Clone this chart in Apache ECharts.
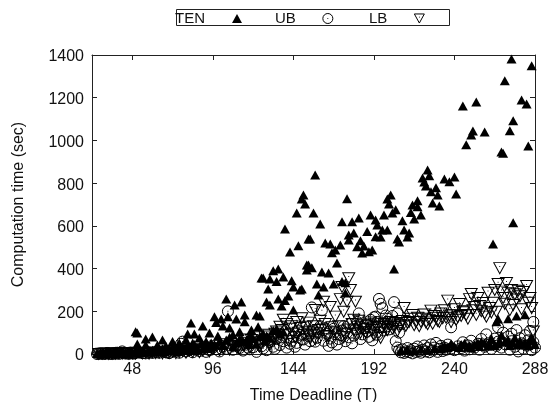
<!DOCTYPE html>
<html><head><meta charset="utf-8">
<script src="https://cdn.jsdelivr.net/npm/echarts@6/dist/echarts.min.js"></script>
<style>html,body{margin:0;background:#fff}#c{width:551px;height:402px}</style></head>
<body><div id="c"></div>
<script>
const xTicks=[48,96,144,192,240,288];
const yTicks=[0,200,400,600,800,1000,1200,1400];
const tenPoints=[[274,1381],[286,1350],[270,1280],[280,1189],[283,1170],[253,1180],[245,1161],[275,1092],[273,1045],[258,1039],[251,1044],[250,1025],[247,980],[284,974],[268,946],[269,940],[157,838],[224,861],[225,835],[221,824],[234,819],[240,829],[237,807],[222,805],[223,787],[229,779],[226,760],[230,744],[241,749],[202,744],[150,744],[149,726],[151,702],[176,727],[200,726],[201,702],[218,718],[215,698],[218,690],[227,707],[231,693],[205,676],[203,660],[214,662],[146,660],[156,660],[190,651],[198,651],[220,651],[275,615],[263,515],[204,398],[160,609],[173,619],[179,619],[183,637],[193,627],[194,604],[197,581],[200,581],[209,624],[216,632],[210,581],[213,567],[212,548],[206,538],[207,524],[188,573],[180,567],[177,557],[177,534],[193,549],[196,548],[184,530],[182,502],[186,506],[185,473],[189,479],[191,487],[172,510],[166,515],[163,520],[169,487],[167,474],[154,538],[170,426],[153,417],[155,404],[152,393],[161,384],[165,379],[158,328],[162,314],[168,328],[173,339],[175,334],[159,276],[149,304],[175,286],[266,164],[272,165],[277,178],[282,184],[265,151],[139,585],[142,478],[147,507],[153,538],[152,417],[132,390],[135,398],[125,356],[126,356],[130,351],[134,339],[138,361],[143,343],[144,314],[148,300],[129,304],[141,272],[135,258],[139,250],[128,243],[130,229],[137,225],[144,206],[104,258],[109,229],[113,243],[97,175],[101,164],[105,175],[115,183],[122,183],[124,178],[83,145],[90,131],[98,147],[110,164],[115,151],[102,131],[106,122],[112,104],[119,112],[123,128],[50,104],[51,98],[81,94],[85,94],[94,98],[56,70],[60,80],[66,66],[51,47],[72,58],[80,66],[88,75],[99,84],[56,42],[63,42],[68,37],[76,51],[84,51],[92,58],[104,66],[116,66],[108,90],[118,88],[126,95],[132,110],[120,72],[128,84],[136,92],[100,60],[110,52],[122,48],[78,30],[86,28],[94,32],[70,22],[60,18],[52,16],[46,12],[42,10],[38,14],[34,8],[30,5],[27,2],[29,6],[32,4],[36,3],[40,7],[44,4],[48,6],[54,9],[58,10],[64,14],[74,20],[82,16],[90,24],[96,36],
[28,1],[31,3],[33,2],[35,5],[37,6],[39,4],[41,8],[43,3],[45,6],[47,9],[49,5],[50,12],[53,7],[55,14],[57,8],[59,12],[61,9],[62,20],[65,10],[66,24],[67,12],[69,16],[71,14],[73,28],[75,12],[77,34],[79,18],[81,40],[83,24],[85,44],[87,20],[89,48],[91,38],[93,26],[95,52],[97,44],[102,40],[106,78],[108,34],[112,70],[114,60],[118,44],[124,82],[127,62],[130,74],[134,118],[138,104],
[208,16],[212,20],[216,14],[220,22],[224,18],[228,26],[232,24],[236,30],[240,35],[243,30],[246,50],[249,40],[252,45],[255,35],[258,50],[261,45],[264,40],[267,60],[270,55],[273,40],[276,75],[268,88],[279,60],[282,52],[285,68],[287,62],[288,45],[262,72],[256,58],[250,28],[244,44],[238,48],[234,38],[278,42],[248,32],[254,52],[260,36],[266,48],[272,66],[275,50],[280,46],[284,40],[286,76]];
const ubPoints=[[27,0],[28,2],[29,1],[30,3],[31,0],[32,2],[33,5],[34,1],[35,3],[36,0],[37,4],[38,2],[39,6],[40,1],[41,3],[42,12],[43,5],[44,2],[45,4],[46,1],[47,7],[48,3],[49,2],[50,5],[52,8],[54,4],[56,3],[58,7],[60,5],[62,9],[64,6],[66,12],[68,8],[70,4],[72,10],[74,16],[76,6],[77,48],[78,58],[80,12],[82,18],[84,8],[86,20],[88,14],[90,26],[92,10],[94,18],[96,30],[98,22],[100,12],[102,36],[104,24],[105,200],[106,52],[108,20],[110,38],[112,28],[114,16],[116,44],[118,22],[120,32],[122,10],[124,50],[126,26],[128,18],[130,56],[132,34],[134,70],[136,42],[138,60],[140,30],[142,48],[144,80],[146,52],[148,90],[150,68],[152,96],[154,60],[155,218],[156,110],[158,76],[160,130],[161,205],[162,62],[164,95],[165,38],[166,72],[168,118],[170,44],[172,88],[174,130],[175,60],[176,100],[178,140],[180,86],[182,150],[183,190],[184,70],[186,120],[188,105],[190,160],[191,64],[192,135],[193,175],[194,90],[195,258],[196,235],[197,215],[198,145],[199,180],[200,165],[201,115],[202,150],[204,243],[206,190],[207,100],[208,140],
[109,62],[113,44],[117,30],[121,58],[125,36],[129,66],[133,24],[137,78],[141,96],[143,62],[145,34],[147,110],[149,70],[151,44],[153,84],[157,58],[159,100],[163,120],[167,54],[169,92],[171,70],[173,110],[177,78],[179,50],[181,116],[185,92],[187,140],[189,80],[192,172],[194,150],[196,128],[198,110],[200,130],[203,178],
[205,60],[206,30],[207,18],[208,8],[209,22],[210,5],[211,12],[212,28],[213,9],[214,18],[215,3],[216,25],[217,10],[218,35],[219,14],[220,6],[221,20],[222,40],[223,12],[224,28],[225,8],[226,45],[227,16],[228,30],[229,52],[230,10],[231,24],[232,38],[233,14],[234,30],[235,20],[236,44],[238,125],[238,26],[240,18],[242,36],[244,28],[245,55],[246,16],[248,40],[249,22],[250,62],[252,30],[254,48],[255,20],[256,70],[258,34],[259,92],[260,50],[262,24],[264,72],[265,38],[266,58],[268,30],[269,100],[270,46],[272,82],[273,20],[274,60],[276,34],[277,112],[278,12],[279,74],[280,50],[281,25],[282,88],[283,40],[284,64],[285,108],[286,18],[287,55],[287,150],[288,30],[266,125],[274,95]];
const lbPoints=[[28,0],[30,1],[32,3],[34,0],[36,2],[38,1],[40,4],[42,2],[44,5],[46,1],[48,3],[50,2],[52,6],[54,3],[56,5],[58,2],[60,7],[62,4],[64,6],[66,3],[68,8],[70,5],[72,12],[74,4],[76,9],[78,14],[80,6],[82,18],[84,10],[86,24],[88,8],[90,16],[92,30],[94,12],[96,22],[98,38],[100,18],[102,28],[104,46],[106,20],[108,36],[110,58],[112,26],[114,42],[116,68],[118,32],[120,50],[122,78],[124,38],[126,60],[128,90],[130,44],[132,72],[134,105],[136,128],[138,160],[140,140],[142,118],[144,95],[146,150],[148,122],[149,167],[150,88],[152,104],[153,147],[154,72],[156,130],[157,206],[158,96],[160,156],[161,115],[162,245],[164,84],[166,220],[167,125],[169,175],[170,100],[172,257],[173,314],[174,198],[175,92],[176,245],[177,355],[178,300],[179,140],[180,110],[181,245],[182,128],[183,156],[184,100],[186,135],[188,116],[190,148],[192,88],[194,126],[196,75],[198,140],[200,112],[202,150],[204,125],[206,108],[208,135],[210,215],[212,145],[214,165],[215,183],[216,135],[218,170],[220,151],[222,185],[224,140],[226,203],[228,178],[230,155],[232,190],[233,168],[234,205],[236,250],[237,180],[238,150],[240,210],[242,172],[243,234],[245,195],[247,183],[249,257],[250,281],[251,205],[253,183],[254,262],[255,225],[257,239],[258,190],[260,287],[261,215],[263,240],[265,198],[266,328],[267,402],[268,292],[269,262],[270,235],[271,332],[272,285],[273,205],[275,229],[276,280],[277,255],[278,296],[279,270],[280,210],[281,290],[283,318],[284,240],[285,262],[286,215],[287,105],[264,300],[274,300],
[111,30],[115,52],[119,66],[123,44],[127,82],[131,58],[133,95],[135,70],[137,112],[139,88],[141,62],[143,130],[145,78],[147,100],[151,128],[155,90],[157,68],[159,112],[163,140],[165,82],[168,104],[171,130],[174,78],[177,115],[180,160],[182,92],[185,120],[187,102],[189,132],[191,112],[193,142],[195,100],[197,118],[199,128],[201,138],[203,118],[205,145],[207,128],[209,155],[211,132],[213,150],[217,150],[219,130],[221,165],[223,148],[225,158],[227,142],[229,170],[231,150],[235,170],[239,182],[241,160],[244,178],[246,200],[248,165],[252,220],[256,200],[259,175],[262,195]];
const legendNames=['TEN','UB','LB'];

const triUp='path://M5 0L10 9L0 9Z';
const dotCircle='path://M0 5A5 5 0 1 1 10 5A5 5 0 1 1 0 5ZM4.6 5L5.4 5';
const triDown='path://M0 0L11 0L5.5 10ZM5.1 3.5L5.9 3.5';
const ink='#000', frame='#222', font='"Liberation Sans",Arial,sans-serif';

const legendPos=[175,275,369];
const legendIcons=[triUp,dotCircle,triDown];
const chart=echarts.init(document.getElementById('c'),null,{renderer:'canvas'});
const xBase={type:'value',min:24,max:288,interval:24,gridIndex:0,splitLine:{show:false}};
const yBase={type:'value',min:0,max:1400,interval:200,gridIndex:0,splitLine:{show:false}};
const line={show:true,onZero:false,lineStyle:{color:frame,width:1}};
chart.setOption({
  animation:false,backgroundColor:'#fff',
  textStyle:{fontFamily:font},
  grid:{left:92,right:16,top:55,bottom:48,containLabel:false,outerBoundsMode:'none'},
  graphic:[{type:'rect',silent:true,z:-1,shape:{x:176.5,y:9.5,width:273,height:16},style:{fill:'#fff',stroke:frame,lineWidth:1}}],
  legend:legendNames.map((n,i)=>({
    data:[{name:n,icon:legendIcons[i]}],left:legendPos[i],top:11,padding:0,
    align:'right',orient:'horizontal',itemWidth:10,itemHeight:10,selectedMode:false,
    itemStyle:{borderWidth:i==0?0:1,borderColor:ink},
    textStyle:{fontSize:15,color:'#111',fontFamily:font,width:[30,21,19][i],align:'right',padding:[0,22,0,0]}
  })),
  xAxis:[
   {...xBase,position:'bottom',name:'Time Deadline (T)',nameLocation:'middle',nameGap:34,
    nameTextStyle:{fontSize:16,color:'#111'},axisLine:line,
    axisTick:{show:true,inside:true,length:5,lineStyle:{color:frame},customValues:xTicks},
    axisLabel:{fontSize:16,color:'#111',margin:8,customValues:xTicks}},
   {...xBase,position:'top',axisLine:line,
    axisTick:{show:true,inside:true,length:5,lineStyle:{color:frame},customValues:xTicks},
    axisLabel:{show:false}}
  ],
  yAxis:[
   {...yBase,position:'left',name:'Computation time (sec)',nameLocation:'middle',nameGap:65,
    nameTextStyle:{fontSize:16,color:'#111'},axisLine:line,
    axisTick:{show:true,inside:true,length:5,lineStyle:{color:frame}},
    axisLabel:{margin:8,formatter:v=>'{n|'+v+'}',rich:{n:{fontSize:16,color:'#111',fontFamily:font,padding:[4,0,0,0]}}}},
   {...yBase,position:'right',axisLine:line,
    axisTick:{show:true,inside:true,length:5,lineStyle:{color:frame}},
    axisLabel:{show:false}}
  ],
  series:[
   {name:'TEN',type:'scatter',clip:false,data:tenPoints,symbol:triUp,symbolSize:[10,9],symbolKeepAspect:false,itemStyle:{color:ink,opacity:1}},
   {name:'UB',type:'scatter',clip:false,data:ubPoints,symbol:dotCircle,symbolSize:[11,11],itemStyle:{color:'none',borderColor:ink,borderWidth:1,opacity:1}},
   {name:'LB',type:'scatter',clip:false,data:lbPoints,symbol:triDown,symbolSize:[12,11],itemStyle:{color:'none',borderColor:ink,borderWidth:1,opacity:1}}
  ]
});
</script></body></html>
